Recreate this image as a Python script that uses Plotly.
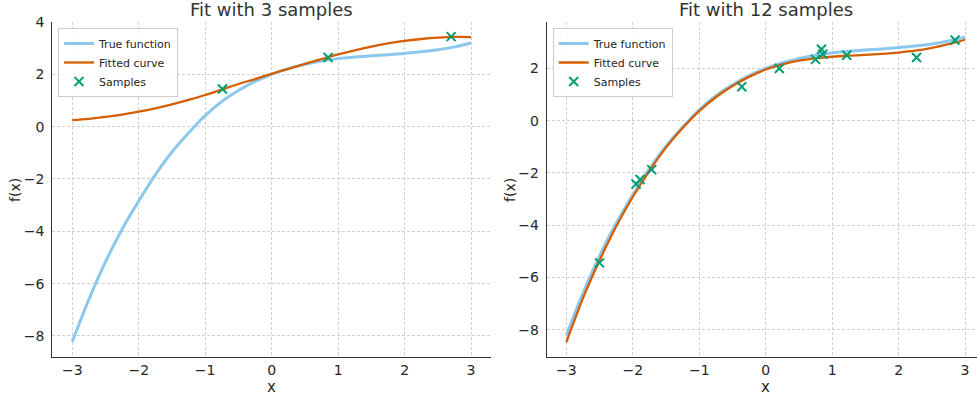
import plotly.graph_objects as go

# ---- data ----
x_grid = [-3.0, -2.75, -2.5, -2.25, -2.0, -1.75, -1.5, -1.25, -1.0, -0.75, -0.5, -0.25,
          0.0, 0.25, 0.5, 0.75, 1.0, 1.25, 1.5, 1.75, 2.0, 2.25, 2.5, 2.75, 3.0]

true_y = [-8.22, -6.61, -5.17, -3.92, -2.84, -1.84, -0.97, -0.24, 0.42, 0.96, 1.38, 1.73,
          2.0, 2.22, 2.38, 2.51, 2.6, 2.66, 2.71, 2.75, 2.8, 2.86, 2.94, 3.05, 3.2]

fit3_y = [0.25, 0.30, 0.37, 0.46, 0.57, 0.70, 0.85, 1.02, 1.21, 1.42, 1.63, 1.82,
          2.02, 2.21, 2.40, 2.58, 2.76, 2.92, 3.06, 3.18, 3.28, 3.35, 3.40, 3.43, 3.42]

fit12_y = [-8.48, -6.80, -5.35, -4.05, -2.92, -1.92, -1.03, -0.28, 0.37, 0.90, 1.33, 1.68,
           1.96, 2.16, 2.30, 2.39, 2.45, 2.49, 2.52, 2.56, 2.61, 2.68, 2.79, 2.93, 3.10]

samples3_x = [-0.74, 0.85, 2.70]
samples3_y = [1.44, 2.64, 3.44]

samples12_x = [-2.50, -1.95, -1.89, -1.715, -0.36, 0.205, 0.75, 0.84, 0.86, 1.22, 2.27, 2.85]
samples12_y = [-5.44, -2.42, -2.25, -1.87, 1.30, 2.00, 2.35, 2.74, 2.55, 2.51, 2.42, 3.09]

titles = ["Fit with 3 samples", "Fit with 12 samples"]
x_ticks = [-3, -2, -1, 0, 1, 2, 3]
y_ticks = [-8, -6, -4, -2, 0, 2, 4]

BLUE = "#8cc8ee"
ORANGE = "#d55e00"
GREEN = "#009e73"
FONT = "DejaVu Sans"
TXT = "#262626"

fig = go.Figure()

panels = [
    ("x", "y", "legend", fit3_y, samples3_x, samples3_y),
    ("x2", "y2", "legend2", fit12_y, samples12_x, samples12_y),
]
for xa, ya, lg, fy, sx, sy in panels:
    fig.add_trace(go.Scatter(x=x_grid, y=true_y, mode="lines", name="True function",
                             line=dict(color=BLUE, width=3, shape="spline"),
                             xaxis=xa, yaxis=ya, legend=lg))
    fig.add_trace(go.Scatter(x=x_grid, y=fy, mode="lines", name="Fitted curve",
                             line=dict(color=ORANGE, width=2.3, shape="spline"),
                             xaxis=xa, yaxis=ya, legend=lg))
    fig.add_trace(go.Scatter(x=sx, y=sy, mode="markers", name="Samples",
                             marker=dict(symbol="x-thin", size=9, color=GREEN,
                                         line=dict(width=2, color=GREEN)),
                             xaxis=xa, yaxis=ya, legend=lg))

W, H = 977, 398
ax_common = dict(showline=True, linecolor="#333333", linewidth=1, mirror=False,
                 showgrid=True, gridcolor="#d0d0d0", griddash="3px,2px", gridwidth=0.8,
                 zeroline=False, ticks="", automargin=False,
                 tickfont=dict(family=FONT, size=14, color=TXT))

ydom = [1 - 357.4 / H, 1 - 22 / H]
fig.update_layout(
    width=W, height=H, margin=dict(l=0, r=0, t=0, b=0, autoexpand=False),
    paper_bgcolor="white", plot_bgcolor="white",
    xaxis=dict(domain=[52.3 / W, 491 / W], range=[-3.3, 3.3], tickvals=x_ticks,
               anchor="y", ticklabelstandoff=0, **ax_common),
    yaxis=dict(domain=ydom, range=[-8.82, 4.0], tickvals=y_ticks, anchor="x",
               ticklabelstandoff=4, **ax_common),
    xaxis2=dict(domain=[546.7 / W, 1.0], range=[-3.295, 3.18], tickvals=x_ticks,
                anchor="y2", ticklabelstandoff=0, **ax_common),
    yaxis2=dict(domain=ydom, range=[-9.06, 3.78], tickvals=y_ticks, anchor="x2",
                ticklabelstandoff=4, **ax_common),
    legend=dict(x=58 / W, y=1 - 28 / H, xanchor="left", yanchor="top",
                bgcolor="rgba(255,255,255,0.85)", bordercolor="#cccccc", borderwidth=1,
                font=dict(family=FONT, size=11, color=TXT), tracegroupgap=0),
    legend2=dict(x=552.7 / W, y=1 - 28 / H, xanchor="left", yanchor="top",
                 bgcolor="rgba(255,255,255,0.85)", bordercolor="#cccccc", borderwidth=1,
                 font=dict(family=FONT, size=11, color=TXT), tracegroupgap=0),
    showlegend=True,
)

ann = []
for xr, t in zip(["x", "x2"], titles):
    ann.append(dict(text=t, xref=xr, x=0, yref="paper", y=1 - 9 / H, yanchor="middle",
                    showarrow=False, font=dict(family=FONT, size=18, color="#333333")))
    ann.append(dict(text="x", xref=xr, x=0, yref="paper", y=1 - 387 / H, yanchor="middle",
                    showarrow=False, font=dict(family=FONT, size=15, color=TXT)))
ann.append(dict(text="f(x)", xref="paper", x=15 / W, yref="paper", y=1 - 190 / H,
                textangle=-90, showarrow=False, xanchor="center", yanchor="middle",
                font=dict(family=FONT, size=14, color=TXT)))
ann.append(dict(text="f(x)", xref="paper", x=510 / W, yref="paper", y=1 - 190 / H,
                textangle=-90, showarrow=False, xanchor="center", yanchor="middle",
                font=dict(family=FONT, size=14, color=TXT)))
fig.update_layout(annotations=ann)

fig.write_html("out.html", config={"displayModeBar": False},
               post_script="document.body.style.margin='0';document.body.style.padding='0';")
